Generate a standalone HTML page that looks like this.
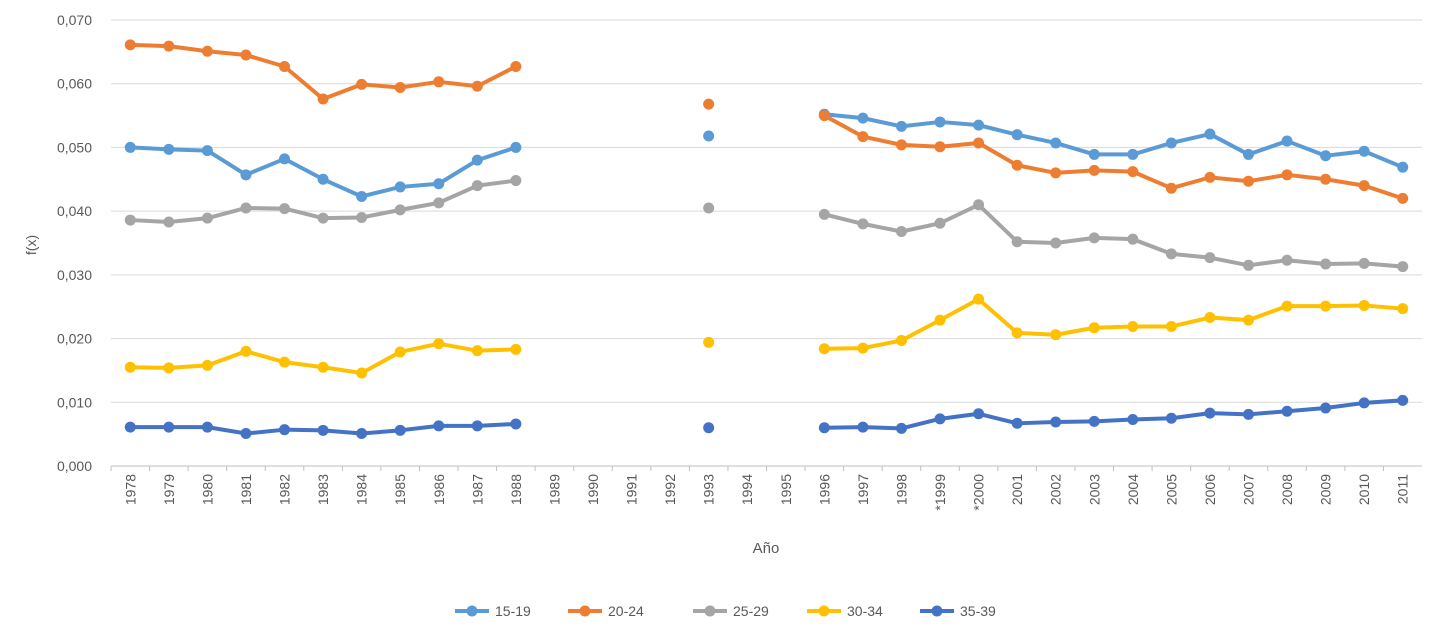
<!DOCTYPE html>
<html><head><meta charset="utf-8"><style>
body{margin:0;background:#fff;font-family:"Liberation Sans",sans-serif;}
svg text{font-family:"Liberation Sans",sans-serif;fill:#595959;}
</style></head><body>
<svg id="chart" width="1434" height="636"></svg>
<script>
const categories=["1978","1979","1980","1981","1982","1983","1984","1985","1986","1987","1988","1989","1990","1991","1992","1993","1994","1995","1996","1997","1998","*1999","*2000","2001","2002","2003","2004","2005","2006","2007","2008","2009","2010","2011"];
const N=null;
const s1519=[0.0500,0.0497,0.0495,0.0457,0.0482,0.0450,0.0423,0.0438,0.0443,0.0480,0.0500,N,N,N,N,0.0518,N,N,0.0552,0.0546,0.0533,0.0540,0.0535,0.0520,0.0507,0.0489,0.0489,0.0507,0.0521,0.0489,0.0510,0.0487,0.0494,0.0469];
const s2024=[0.0661,0.0659,0.0651,0.0645,0.0627,0.0576,0.0599,0.0594,0.0603,0.0596,0.0627,N,N,N,N,0.0568,N,N,0.0550,0.0517,0.0504,0.0501,0.0507,0.0472,0.0460,0.0464,0.0462,0.0436,0.0453,0.0447,0.0457,0.0450,0.0440,0.0420];
const s2529=[0.0386,0.0383,0.0389,0.0405,0.0404,0.0389,0.0390,0.0402,0.0413,0.0440,0.0448,N,N,N,N,0.0405,N,N,0.0395,0.0380,0.0368,0.0381,0.0410,0.0352,0.0350,0.0358,0.0356,0.0333,0.0327,0.0315,0.0323,0.0317,0.0318,0.0313];
const s3034=[0.0155,0.0154,0.0158,0.0180,0.0163,0.0155,0.0146,0.0179,0.0192,0.0181,0.0183,N,N,N,N,0.0194,N,N,0.0184,0.0185,0.0197,0.0229,0.0262,0.0209,0.0206,0.0217,0.0219,0.0219,0.0233,0.0229,0.0251,0.0251,0.0252,0.0247];
const s3539=[0.0061,0.0061,0.0061,0.0051,0.0057,0.0056,0.0051,0.0056,0.0063,0.0063,0.0066,N,N,N,N,0.0060,N,N,0.0060,0.0061,0.0059,0.0074,0.0082,0.0067,0.0069,0.0070,0.0073,0.0075,0.0083,0.0081,0.0086,0.0091,0.0099,0.0103];
const seriesNames=["15-19","20-24","25-29","30-34","35-39"];
const yTicks=[0,0.01,0.02,0.03,0.04,0.05,0.06,0.07];
const yTickLabels=["0,000","0,010","0,020","0,030","0,040","0,050","0,060","0,070"];

const svg=document.getElementById('chart');
const NS='http://www.w3.org/2000/svg';
const L=111,R=1422,T=20,B=466;
const band=(R-L)/categories.length;
const xS=i=>L+band*(i+0.5);
const yS=v=>B-(v/0.07)*(B-T);
function mk(tag,at,parent){const e=document.createElementNS(NS,tag);for(const k in at)e.setAttribute(k,at[k]);(parent||svg).appendChild(e);return e;}

yTicks.forEach((t,i)=>{
  const g=mk('line',{x1:L,x2:R,y1:yS(t),y2:yS(t),stroke:i==0?'#bfbfbf':'#d9d9d9','stroke-width':1});
  
  
  const tx=mk('text',{x:92,y:yS(t)+5,'text-anchor':'end','font-size':14});
  tx.textContent=yTickLabels[i];
  
  
});
categories.forEach((c,i)=>{
  const x=xS(i);
  const tk=mk('line',{x1:L+band*i,x2:L+band*i,y1:B,y2:B+5,stroke:'#bfbfbf'});
  
  
  const tx=mk('text',{x:0,y:0,'text-anchor':'end','font-size':14,transform:`translate(${x+5},${B+8}) rotate(-90)`});
  tx.textContent=c;
  
  
});
const xt=mk('text',{x:766,y:553,'text-anchor':'middle','font-size':15});
xt.textContent='Año';


const yt=mk('text',{x:0,y:0,'text-anchor':'middle','font-size':14,transform:'translate(36,245) rotate(-90)'});
yt.textContent='f(x)';



const allSeries=[s1519,s2024,s2529,s3034,s3539];
const colors=['#5B9BD5','#ED7D31','#A5A5A5','#FFC000','#4472C4'];
allSeries.forEach((s,si)=>{
  const g=mk('g',{});
  
  
  let d='',pen=false;
  s.forEach((v,i)=>{if(v==null){pen=false;return;}
    const nextNull=(i+1>=s.length||s[i+1]==null);
    const prevNull=(i==0||s[i-1]==null);
    if(prevNull&&nextNull)return;
    d+=(pen?'L':'M')+xS(i)+' '+yS(v)+' ';pen=true;});
  const p=mk('path',{d:d,fill:'none',stroke:colors[si],'stroke-width':4,'stroke-linejoin':'round'},g);
  
  
  s.forEach((v,i)=>{if(v==null)return;
    const c=mk('circle',{cx:xS(i),cy:yS(v),r:5.5,fill:colors[si]},g);
    
    
  });
});
const legX=[455,568,693,807,920];
seriesNames.forEach((n,i)=>{
  const g=mk('g',{});
  
  
  mk('line',{x1:legX[i],x2:legX[i]+34,y1:611,y2:611,stroke:colors[i],'stroke-width':4},g);
  mk('circle',{cx:legX[i]+17,cy:611,r:5.5,fill:colors[i]},g);
  const t=mk('text',{x:legX[i]+40,y:616,'font-size':14},g);
  t.textContent=n;
});
</script>
</body></html>
